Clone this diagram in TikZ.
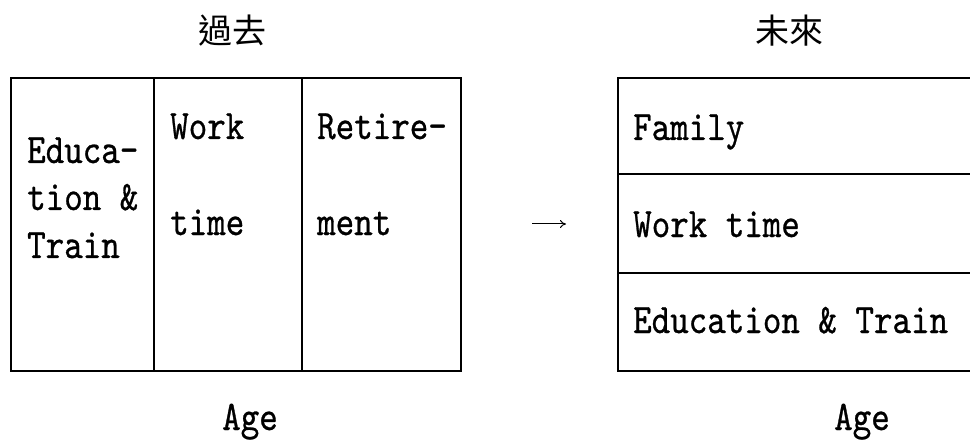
\documentclass[tikz,border=0pt]{standalone}
\usepackage{fontspec}
\newfontfamily\cjkf{Noto Sans CJK TC}
\newfontfamily\monof{lmmono10-regular}[Extension=.otf,FakeStretch=0.84,FakeBold=0.7]
\newcommand\monoft{\monof\fontsize{42}{48}\selectfont}
\usetikzlibrary{arrows.meta}
\begin{document}
\begin{tikzpicture}[x=1pt,y=-1pt,
  lbl/.style={anchor=base west,inner sep=0pt,font=\monoft},
  agelbl/.style={anchor=base,inner sep=0pt,font=\monoft},
  ttl/.style={anchor=center,inner sep=0pt,font=\cjkf\fontsize{34}{40}\selectfont},
  boxline/.style={line width=1.8pt,line cap=rect}]
\useasboundingbox (0,0) rectangle (970,441);
% left block
\draw[boxline] (11,78) rectangle (461,371);
\draw[boxline] (154,78) -- (154,371);
\draw[boxline] (302,78) -- (302,371);
% right block
\draw[boxline] (970,78) -- (618,78) -- (618,371) -- (970,371);
\draw[boxline] (618,174) -- (970,174);
\draw[boxline] (618,273) -- (970,273);
% titles
\node[ttl] (t1) at (232,31) {過去};
\node[ttl] (t2) at (789,31) {未來};
% left texts
\node[lbl] (e1) at (27,163) {Educa-};
\node[lbl] (e2) at (27,210) {tion \&};
\node[lbl] (e3) at (27,258) {Train};
\node[lbl] (w1) at (170,139) {Work};
\node[lbl] (w2) at (170,235) {time};
\node[lbl] (r1) at (317,139) {Retire-};
\node[lbl] (r2) at (317,235) {ment};
% right texts
\node[lbl] (f1) at (633,140) {Family};
\node[lbl] (f2) at (633,237) {Work time};
\node[lbl] (f3) at (633,333) {Education \& Train};
% ages
\node[agelbl] (a1) at (250,430) {Age};
\node[agelbl] (a2) at (862,430) {Age};
% arrow
\coordinate (p1) at (532,224);
\coordinate (p2) at (566,224);
\draw[line width=1pt,-{To[length=6pt,width=8pt]}] (p1) -- (p2);
\end{tikzpicture}
\end{document}
